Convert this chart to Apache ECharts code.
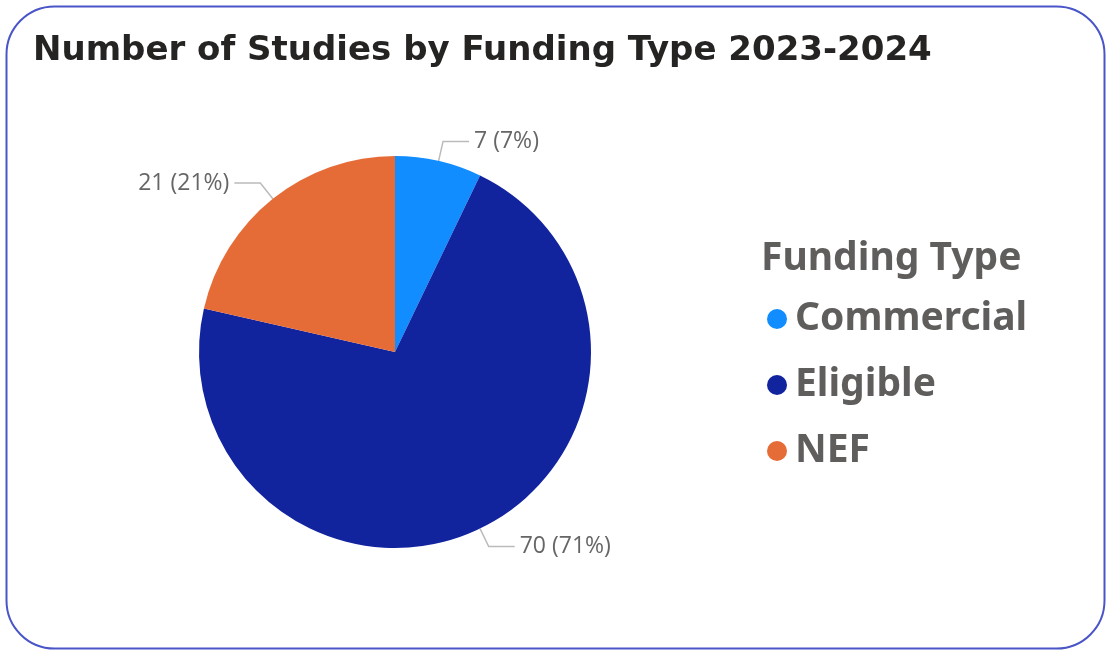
<!DOCTYPE html>
<html>
<head>
<meta charset="utf-8">
<script src="https://cdn.jsdelivr.net/npm/echarts@6/dist/echarts.min.js"></script>
<style>
html,body{margin:0;padding:0;background:#fff;}
#chart{width:1107px;height:650px;}
</style>
</head>
<body>
<div id="chart"></div>
<script>
const categories = ['Commercial', 'Eligible', 'NEF'];
const values = [7, 70, 21];
const colors = ['#118DFF', '#12239E', '#E66C37'];
const chartTitle = 'Number of Studies by Funding Type 2023-2024';
const legendTitle = 'Funding Type';

const total = values.reduce((a, b) => a + b, 0);
const chart = echarts.init(document.getElementById('chart'));
chart.setOption({
  backgroundColor: '#ffffff',
  animation: false,
  title: [
    { text: chartTitle, left: 28, top: 29,
      textStyle: { fontFamily: 'DejaVu Sans', fontWeight: 'bold', fontSize: 34, color: '#252423' } },
    { text: legendTitle, left: 756, top: 234,
      textStyle: { fontFamily: 'Noto Sans', fontWeight: 'bold', fontSize: 39, color: '#605E5C' } }
  ],
  legend: {
    orient: 'vertical', left: 762, top: 294,
    icon: 'circle', itemWidth: 20, itemHeight: 20, itemGap: 26,
    textStyle: { fontFamily: 'Noto Sans', fontWeight: 'bold', fontSize: 39, lineHeight: 40, color: '#605E5C', padding: [0, 0, 0, 3] },
    data: categories
  },
  graphic: [{
    type: 'rect', left: 4, top: 4, silent: true,
    shape: { width: 1098, height: 642, r: 48 },
    style: { fill: 'none', stroke: '#4A55C8', lineWidth: 2 }
  }],
  series: [{
    type: 'pie',
    center: [395, 352],
    radius: 196,
    startAngle: 90,
    clockwise: true,
    data: categories.map((c, i) => ({ name: c, value: values[i], itemStyle: { color: colors[i] } })),
    label: {
      show: true, position: 'outside',
      formatter: p => p.value + ' (' + Math.round(p.value / total * 100) + '%)',
      fontFamily: 'Open Sans', fontSize: 23, color: '#666666'
    },
    labelLine: { show: true, length: 20, length2: 26, lineStyle: { color: '#BBBBBB', width: 1.5 } },
    emphasis: { disabled: true }
  }]
});
</script>
</body>
</html>
